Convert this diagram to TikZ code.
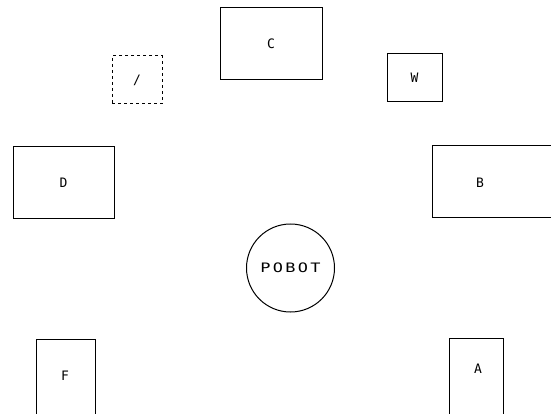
\documentclass[tikz,border=0pt]{standalone}
\usepackage{fontspec}
\setmainfont{DejaVu Sans Mono}
\newfontfamily\widefont[FakeStretch=1.3,LetterSpace=18]{DejaVu Sans Mono}
\begin{document}
\begin{tikzpicture}[x=1pt,y=-1pt,
  box/.style={draw=black,line width=1pt,rectangle,inner sep=0pt},
  lbl/.style={font=\fontsize{13}{13}\selectfont,inner sep=0pt}]
\useasboundingbox (0,0) rectangle (551,414);
\clip (0,0) rectangle (551,414);
\node[box,minimum width=102pt,minimum height=72pt,lbl] (C) at (271,44) {C};
\node[box,dashed,minimum width=50pt,minimum height=48pt,lbl] (J) at (137,80) {/};
\node[box,minimum width=55pt,minimum height=48pt,lbl] (W) at (414.5,78) {W};
\node[box,minimum width=101pt,minimum height=71pt,lbl] (D) at (63.5,182.5) {D};
\node[box,minimum width=130pt,minimum height=71pt] (B) at (497,181.5) {};
\node[lbl] (Bl) at (480,183) {B};
\node[draw=black,line width=1pt,circle,minimum size=88pt,inner sep=0pt,font=\widefont\fontsize{13}{13}\selectfont] (R) at (290.5,268) {POBOT};
\node[box,minimum width=59pt,minimum height=85pt] (F) at (65.5,381.5) {};
\node[lbl] (Fl) at (65,376) {F};
\node[box,minimum width=54pt,minimum height=76pt] (A) at (476,376) {};
\node[lbl] (Al) at (478,369) {A};
\end{tikzpicture}
\end{document}
